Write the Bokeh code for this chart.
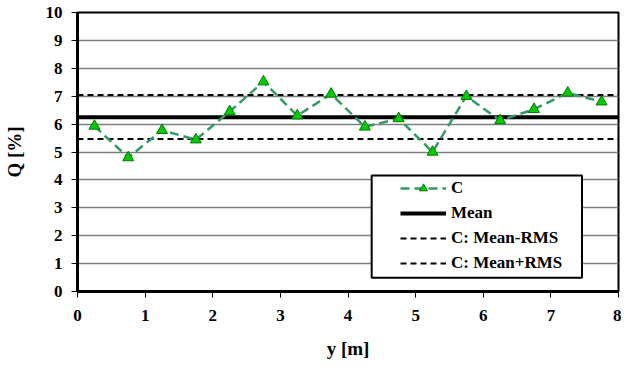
from bokeh.plotting import figure
from bokeh.models import Range1d, FixedTicker, Legend, LegendItem, BoxAnnotation
from bokeh.embed import file_html
from bokeh.resources import INLINE

# ---- data ----
y_pos = [0.25, 0.75, 1.25, 1.75, 2.25, 2.75, 3.25, 3.75,
         4.25, 4.75, 5.25, 5.75, 6.25, 6.75, 7.25, 7.75]
q_c = [5.93, 4.80, 5.78, 5.44, 6.45, 7.52, 6.30, 7.08,
       5.90, 6.20, 5.00, 7.00, 6.13, 6.53, 7.12, 6.80]
mean_q = 6.25
mean_minus_rms = 5.47
mean_plus_rms = 7.04
x_limits = [0, 8]
y_limits = [0, 10]
x_ticks = [0, 1, 2, 3, 4, 5, 6, 7, 8]
y_ticks = [0, 1, 2, 3, 4, 5, 6, 7, 8, 9, 10]
series_labels = ["C", "Mean", "C: Mean-RMS", "C: Mean+RMS"]

FONT = "'Liberation Serif', 'Times New Roman', 'DejaVu Serif', serif"

p = figure(width=621, height=363, output_backend="svg", toolbar_location=None,
           title=None,
           x_range=Range1d(*x_limits), y_range=Range1d(*y_limits),
           min_border_left=74, min_border_right=3,
           min_border_top=12, min_border_bottom=72)

p.background_fill_color = "white"
p.border_fill_color = "white"
p.outline_line_color = "black"
p.outline_line_width = 2

p.xaxis.ticker = FixedTicker(ticks=x_ticks)
p.yaxis.ticker = FixedTicker(ticks=y_ticks)
p.xaxis.axis_label = "y [m]"
p.yaxis.axis_label = "Q [%]"

for ax in (p.xaxis[0], p.yaxis[0]):
    ax.axis_line_width = 3
    ax.axis_line_color = "black"
    ax.major_tick_line_color = "black"
    ax.major_tick_line_width = 1
    ax.major_tick_in = 0
    ax.major_tick_out = 6
    ax.minor_tick_line_color = None
    ax.major_label_text_font = FONT
    ax.major_label_text_font_style = "bold"
    ax.major_label_text_font_size = "17px"
    ax.major_label_text_color = "black"
    ax.axis_label_text_font = FONT
    ax.axis_label_text_font_style = "bold"
    ax.axis_label_text_font_size = "19px"
    ax.axis_label_text_color = "black"

p.xaxis.major_label_standoff = 12
p.xaxis.axis_label_standoff = 14
p.yaxis.major_label_standoff = 9
p.yaxis.axis_label_standoff = 18

p.xgrid.visible = False
p.ygrid.ticker = FixedTicker(ticks=y_ticks)
p.ygrid.grid_line_color = "#7f7f7f"
p.ygrid.grid_line_width = 1.5

# reference lines
mean_r = p.line(x_limits, [mean_q, mean_q], line_color="black", line_width=4)
minus_r = p.line(x_limits, [mean_minus_rms, mean_minus_rms], line_color="black",
                 line_width=2, line_dash="6 4")
plus_r = p.line(x_limits, [mean_plus_rms, mean_plus_rms], line_color="black",
                line_width=2, line_dash="6 4")

# series C
c_line = p.line(y_pos, q_c, line_color="#339966", line_width=2.5, line_dash="9 5")
c_pts = p.scatter(y_pos, q_c, marker="triangle", size=11,
                  fill_color="#00cc00", line_color="#007a00", line_width=1)

# legend box
box = BoxAnnotation(left=4.35, right=7.46, bottom=0.49, top=4.16,
                    fill_color="white", fill_alpha=1.0,
                    line_color="black", line_width=2, line_alpha=1.0)
p.add_layout(box)

legend = Legend(items=[
    LegendItem(label=series_labels[0], renderers=[c_line, c_pts]),
    LegendItem(label=series_labels[1], renderers=[mean_r]),
    LegendItem(label=series_labels[2], renderers=[minus_r]),
    LegendItem(label=series_labels[3], renderers=[plus_r]),
], location=(323, 18), padding=0, margin=0, spacing=5,
    glyph_width=46, glyph_height=20, label_height=20, label_standoff=5,
    label_text_font=FONT, label_text_font_style="bold",
    label_text_font_size="17px", label_text_color="black",
    border_line_alpha=0, background_fill_alpha=0)
p.add_layout(legend)

open("out.html", "w").write(file_html(p, INLINE))
